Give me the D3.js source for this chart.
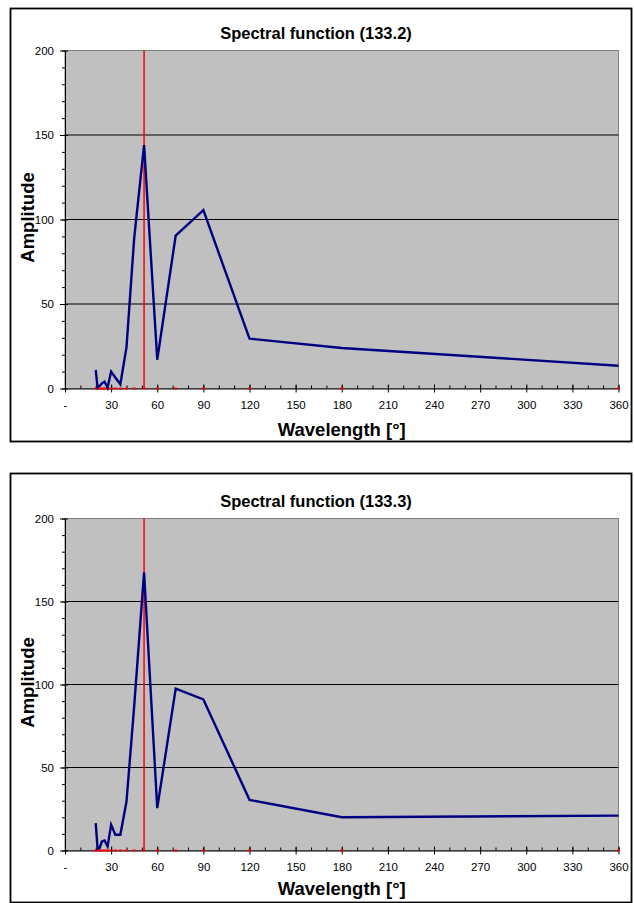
<!DOCTYPE html>
<html lang="en">
<head>
    <meta charset="UTF-8">
    <title>Spectral function</title>
    <script src="https://d3js.org/d3.v7.min.js"></script>
    <style>
        body {
            margin: 0;
            background: white;
            font-family: Arial, "Liberation Sans", sans-serif;
        }
        .tick text {
            font-size: 11.5px;
            font-family: Arial, "Liberation Sans", sans-serif;
            fill: black;
        }
        .title {
            font-weight: bold;
            font-size: 16.5px;
            fill: black;
        }
        .axis-title {
            font-weight: bold;
            font-size: 18.5px;
            fill: black;
        }
    </style>
</head>
<body>
    <script>
        // Harmonic wavelengths (360 / k, k = 1..18)
        const wavelengths = [360, 180, 120, 90, 72, 60, 51.43, 45, 40, 36, 32.73, 30, 27.69, 25.71, 24, 22.5, 21.18, 20];

        // Amplitudes
        const amplitude1332 = [13.5, 24, 29.5, 105.5, 90.5, 17, 144, 89, 24.5, 2.5, 6.5, 10, 0.5, 4, 3, 1.5, 0.5, 11];
        const amplitude1333 = [21, 20, 30.5, 91, 97.5, 25.5, 167.5, 87, 29.5, 9.5, 9.5, 15.5, 2.5, 6, 5.5, 1.5, 1, 16.5];

        // Dominant wavelength marker (red vertical line)
        const peakWavelength = 51.43;

        const xTicks = [0, 30, 60, 90, 120, 150, 180, 210, 240, 270, 300, 330, 360];
        const xMinorTicks = d3.range(0, 361, 10);
        const yTicks = [0, 50, 100, 150, 200];
        const yMinorTicks = d3.range(0, 201, 10);

        const titles = ["Spectral function (133.2)", "Spectral function (133.3)"];

        const width = 634;
        const height = 903;

        const svg = d3.select("body")
            .append("svg")
            .attr("width", width)
            .attr("height", height);

        // Panel layout
        const panels = [
            {top: 8, bottom: 441, plotTop: 50.5, plotBottom: 388.5, xTitleOffset: 47, amps: amplitude1332, title: titles[0]},
            {top: 473, bottom: 902, plotTop: 518.5, plotBottom: 850.5, xTitleOffset: 44, amps: amplitude1333, title: titles[1]}
        ];

        const plotLeft = 65;
        const plotRight = 618.5;

        panels.forEach(p => {
            const g = svg.append("g");

            // outer chart border
            g.append("rect")
                .attr("x", 10.5)
                .attr("y", p.top + 0.5)
                .attr("width", 621)
                .attr("height", p.bottom - p.top)
                .attr("fill", "white")
                .attr("stroke", "black")
                .attr("stroke-width", 1.8);

            const x = d3.scaleLinear().domain([0, 360]).range([plotLeft, plotRight]);
            const y = d3.scaleLinear().domain([0, 200]).range([p.plotBottom, p.plotTop]);

            // plot background
            g.append("rect")
                .attr("x", plotLeft)
                .attr("y", p.plotTop)
                .attr("width", plotRight - plotLeft)
                .attr("height", p.plotBottom - p.plotTop)
                .attr("fill", "#c0c0c0")
                .attr("stroke", "#808080")
                .attr("stroke-width", 1);

            // gridlines
            g.selectAll(".grid")
                .data(yTicks.filter(d => d > 0 && d < 200))
                .enter()
                .append("line")
                .attr("x1", plotLeft)
                .attr("x2", plotRight)
                .attr("y1", d => y(d))
                .attr("y2", d => y(d))
                .attr("stroke", "black")
                .attr("stroke-width", 1);

            // minor ticks
            const xMinor = g.append("g")
                .attr("transform", `translate(0, ${p.plotBottom})`)
                .call(d3.axisBottom(x).tickValues(xMinorTicks).tickSize(3).tickFormat(""));
            xMinor.select(".domain").remove();
            xMinor.selectAll(".tick line").attr("y1", -3).attr("y2", 0);

            const yMinor = g.append("g")
                .attr("transform", `translate(${plotLeft}, 0)`)
                .call(d3.axisLeft(y).tickValues(yMinorTicks).tickSize(3).tickFormat(""));
            yMinor.select(".domain").remove();

            // major axes
            const xAxis = g.append("g")
                .attr("transform", `translate(0, ${p.plotBottom})`)
                .call(d3.axisBottom(x).tickValues(xTicks).tickSizeOuter(0)
                    .tickFormat(d => d === 0 ? "-" : d));
            xAxis.selectAll(".tick line").attr("y1", -4).attr("y2", 4);
            xAxis.selectAll(".tick text").attr("y", 12);

            const yAxis = g.append("g")
                .attr("transform", `translate(${plotLeft}, 0)`)
                .call(d3.axisLeft(y).tickValues(yTicks).tickSizeOuter(0));
            yAxis.selectAll(".tick line").attr("x1", 3).attr("x2", -5);
            yAxis.selectAll(".tick text").attr("x", -11);

            // red vertical marker
            g.append("line")
                .attr("x1", x(peakWavelength))
                .attr("x2", x(peakWavelength))
                .attr("y1", y(0))
                .attr("y2", y(200))
                .attr("stroke", "#ff0000")
                .attr("stroke-width", 1.5);

            // red markers at zero for every harmonic
            g.selectAll(".zero-mark")
                .data(wavelengths)
                .enter()
                .append("rect")
                .attr("x", d => x(d) - 1.5)
                .attr("y", y(0) - 1)
                .attr("width", 3)
                .attr("height", 2)
                .attr("fill", "#ff0000");

            // spectral line
            const line = d3.line()
                .x(d => x(d[0]))
                .y(d => y(d[1]));

            g.append("path")
                .datum(d3.zip(wavelengths, p.amps))
                .attr("d", line)
                .attr("fill", "none")
                .attr("stroke", "#000080")
                .attr("stroke-width", 2.4)
                .attr("stroke-linejoin", "miter");

            // titles
            g.append("text")
                .attr("class", "title")
                .attr("x", 316)
                .attr("y", p.plotTop - 12)
                .attr("text-anchor", "middle")
                .text(p.title);

            g.append("text")
                .attr("class", "axis-title")
                .attr("x", (plotLeft + plotRight) / 2)
                .attr("y", p.plotBottom + p.xTitleOffset)
                .attr("text-anchor", "middle")
                .text("Wavelength [°]");

            g.append("text")
                .attr("class", "axis-title")
                .attr("transform", `translate(33.5, ${(p.plotTop + p.plotBottom) / 2 - 2}) rotate(-90)`)
                .attr("text-anchor", "middle")
                .text("Amplitude");
        });
    </script>
</body>
</html>
